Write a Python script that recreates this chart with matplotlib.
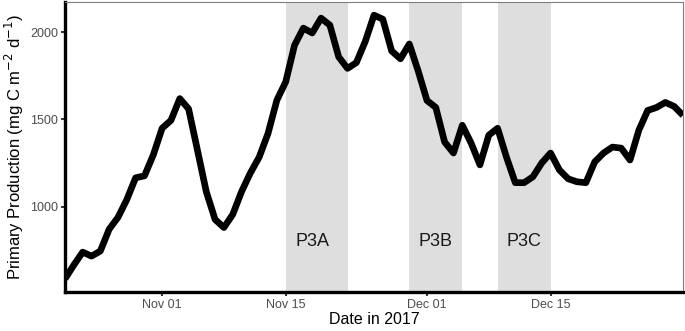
import numpy as np
import matplotlib.pyplot as plt
import matplotlib.dates as mdates

plt.rcParams['font.family'] = ['Liberation Sans', 'DejaVu Sans']

# daily primary production, Oct 21 - Dec 30 2017
start = np.datetime64('2017-10-21')
production = [586, 665, 739, 716, 745, 870, 938, 1040, 1165, 1176,
              1296, 1449, 1494, 1619, 1560, 1324, 1086, 926, 880, 955,
              1086, 1193, 1284, 1420, 1610, 1715, 1925, 2023, 1995, 2080,
              2040, 1858, 1792, 1825, 1945, 2097, 2074, 1892, 1847, 1932,
              1778, 1608, 1568, 1370, 1307, 1466, 1364, 1239, 1409, 1449,
              1284, 1137, 1137, 1171, 1250, 1307, 1210, 1159, 1142, 1137,
              1256, 1307, 1341, 1335, 1267, 1438, 1551, 1568, 1597, 1574,
              1523]
dates = start + np.arange(len(production))

# sampling periods
periods = ['P3A', 'P3B', 'P3C']
period_start = ['2017-11-15', '2017-11-29', '2017-12-09']
period_end = ['2017-11-22', '2017-12-05', '2017-12-15']
label_y = 800

xticks = ['2017-11-01', '2017-11-15', '2017-12-01', '2017-12-15']

fig = plt.figure(figsize=(6.85, 3.31), dpi=100)
ax = fig.add_axes([65/685, 39/331, 618/685, 290/331])

for name, s, e in zip(periods, period_start, period_end):
    s = np.datetime64(s)
    e = np.datetime64(e)
    ax.axvspan(s, e, color='#dedede', lw=0, zorder=0)
    mid = s + (e - s) / 2
    ax.text(mid, label_y, name, ha='center', va='center', fontsize=13, color='#1a1a1a')

ax.plot(dates, production, color='black', lw=4.8, solid_joinstyle='round', solid_capstyle='butt', zorder=3)

rng = max(production) - min(production)
ax.set_ylim(min(production) - 0.05*rng, max(production) + 0.05*rng)
ax.set_xlim(dates[0], dates[-1])

ax.set_xticks([np.datetime64(d) for d in xticks])
ax.xaxis.set_major_formatter(mdates.DateFormatter('%b %d'))
ax.set_yticks([1000, 1500, 2000])

for side in ['left', 'bottom']:
    ax.spines[side].set_linewidth(2.4)
    ax.spines[side].set_color('black')
for side in ['top', 'right']:
    ax.spines[side].set_linewidth(0.8)
    ax.spines[side].set_color('#7f7f7f')

ax.tick_params(length=3, width=1.4, color='#333333', labelsize=9, labelcolor='#4d4d4d', pad=2)

ax.set_xlabel('Date in 2017', fontsize=11.5, labelpad=1)
ax.set_ylabel('Primary Production (mg C m$^{-2}$ d$^{-1}$)', fontsize=12, labelpad=3)

fig.savefig('out.png', dpi=100)
